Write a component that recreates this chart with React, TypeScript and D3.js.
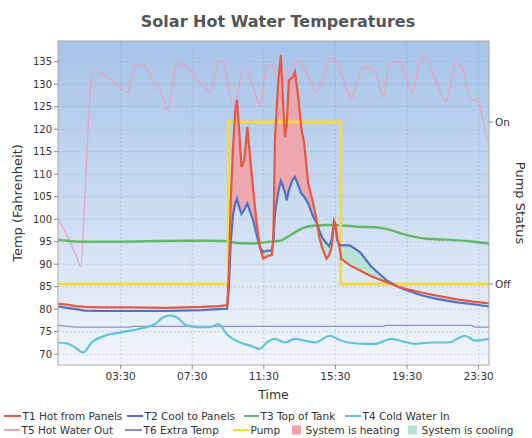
import React from 'react';
import * as d3 from 'd3';

// ---------- data (hours since midnight, degrees F) ----------
const panelHours = [0, 0.5, 1.0, 1.5, 2.5, 4, 6, 8, 9.0, 9.45, 9.55, 9.65, 9.78, 9.9, 10.0, 10.1, 10.25, 10.4, 10.58, 10.75, 10.91, 11.1, 11.28, 11.47, 11.7, 11.94, 12.03, 12.12, 12.3, 12.45, 12.55, 12.68, 12.78, 12.9, 13.1, 13.24, 13.42, 13.6, 13.75, 13.98, 14.26, 14.45, 14.6, 14.75, 15.0, 15.15, 15.29, 15.42, 15.5, 15.6, 15.76, 15.82, 16.3, 16.87, 17.5, 18.36, 19.0, 19.48, 20.3, 21.15, 22.3, 23.2, 24.08];
const t1HotFromPanels = [81.2, 81.0, 80.7, 80.5, 80.4, 80.4, 80.3, 80.5, 80.7, 80.9, 88, 104, 116, 124, 126.5, 121, 111.6, 113, 120.5, 113, 106.4, 99, 93.8, 91.2, 91.8, 92, 95.3, 117.6, 130.2, 136.5, 128, 118.3, 121, 130.9, 131.5, 132.8, 127.2, 120, 117, 107.9, 103.5, 99.7, 96, 93.8, 91.2, 92, 93.8, 99.7, 99, 96, 93, 91.2, 89.8, 88.6, 87.3, 86, 85, 84.5, 83.7, 83, 82.2, 81.7, 81.3];
const t2CoolToPanels = [80.6, 80.3, 80.0, 79.7, 79.6, 79.6, 79.6, 79.8, 80.0, 80.1, 85, 95, 101, 103.5, 104.6, 103, 101.2, 102, 103.5, 101.5, 99.7, 96.5, 93.8, 92.7, 93, 93, 95, 101.2, 106, 108.5, 107.5, 106, 104.2, 106.5, 108.7, 109.4, 107.5, 105.7, 105, 103.5, 100.5, 99.2, 97.5, 96, 94.6, 94, 95.5, 99.2, 98.3, 95.3, 94.2, 94.2, 94.2, 92.7, 89.5, 86.4, 85, 84.2, 83.1, 82.3, 81.5, 81.1, 80.6];

const t3Hours = [0, 0.5, 1.3, 3, 5, 7, 8.5, 9.5, 10.0, 10.8, 11.6, 12.4, 13.0, 13.6, 14.36, 15.0, 15.85, 16.97, 17.7, 18.27, 19.2, 20.5, 21.5, 22.36, 23.2, 24.08];
const t3TopOfTank = [95.4, 95.2, 95.0, 95.0, 95.1, 95.2, 95.2, 95.1, 94.7, 94.6, 94.9, 95.2, 96.5, 97.9, 98.6, 98.7, 98.6, 98.3, 98.2, 97.9, 96.8, 95.7, 95.5, 95.3, 95.0, 94.6];

const t4Hours = [0, 0.5, 0.95, 1.41, 1.88, 2.63, 3.56, 4.49, 5.42, 5.88, 6.26, 6.63, 7.19, 7.93, 8.49, 8.96, 9.42, 10.17, 10.73, 11.28, 11.66, 12.12, 12.68, 13.24, 13.8, 14.36, 15.2, 15.7, 16.22, 17.15, 17.7, 18.64, 19.3, 19.94, 20.87, 21.8, 22.74, 23.3, 24.08];
const t4ColdWaterIn = [72.6, 72.4, 71.5, 70.4, 72.6, 74.1, 74.9, 75.6, 76.7, 78.2, 78.6, 78.2, 76.4, 76.0, 76.0, 76.7, 74.5, 72.6, 71.9, 71.2, 72.6, 73.4, 72.6, 73.4, 73.0, 72.6, 74.1, 73.2, 72.6, 72.3, 72.3, 73.4, 72.8, 72.3, 72.6, 72.6, 74.1, 73.0, 73.4];

const t5Hours = [0, 0.5, 1.0, 1.28, 1.5, 1.75, 1.9, 2.3, 2.8, 3.4, 3.89, 4.1, 4.3, 4.86, 5.3, 5.7, 5.98, 6.16, 6.4, 6.6, 7.0, 7.5, 8.1, 8.49, 8.75, 8.96, 9.24, 9.55, 9.79, 10.0, 10.2, 10.45, 10.8, 11.1, 11.28, 11.45, 11.66, 11.94, 12.2, 12.4, 12.8, 13.1, 13.33, 13.8, 14.2, 14.45, 14.8, 15.0, 15.2, 15.47, 15.9, 16.2, 16.41, 16.7, 17.06, 17.5, 17.9, 18.17, 18.4, 18.55, 19.1, 19.4, 19.8, 20.05, 20.32, 20.6, 21.0, 21.4, 21.7, 21.95, 22.18, 22.55, 22.8, 23.0, 23.48, 23.75, 23.95, 24.08];
const t5HotWaterOut = [100.2, 96.5, 92, 89.5, 105, 125, 133, 132.8, 131.5, 129.5, 128, 131, 134.3, 133.9, 131, 128.7, 125.5, 124.4, 130, 134.6, 134.3, 132.5, 129.5, 128.3, 132, 135.2, 135, 129, 125, 127, 131, 133.9, 130.5, 127, 125, 129, 133.9, 134.3, 131.5, 129.4, 131.5, 134, 135, 133, 130, 128.3, 131, 134, 135.8, 135.4, 131.5, 128, 126.8, 130.5, 133.9, 133.5, 131, 127.2, 132, 135, 135, 132, 128, 132, 136.1, 135.4, 132, 128, 126.1, 130, 134.6, 133.9, 130, 126.8, 126.1, 122, 118.3, 117];

const t6Hours = [0, 0.6, 0.95, 4.0, 4.2, 18.2, 18.3, 23.1, 23.3, 24.08];
const t6ExtraTemp = [76.4, 76.2, 76.0, 76.0, 76.2, 76.2, 76.4, 76.4, 76.0, 76.0];

const pumpHours = [0, 9.51, 15.79, 24.08];
const pumpStatus = [0, 1, 0, 0];

const yTicks = [70, 75, 80, 85, 90, 95, 100, 105, 110, 115, 120, 125, 130, 135];
const xTickHours = [3.5, 7.5, 11.5, 15.5, 19.5, 23.5];
const xTickLabels = ['03:30', '07:30', '11:30', '15:30', '19:30', '23:30'];
const pumpTicks = [0, 1];
const pumpTickLabels = ['Off', 'On'];

// ---------- layout ----------
const W = 532, H = 438;
const PL = 58, PR = 489, PT = 41, PB = 365;
const FONT = 'DejaVu Sans, sans-serif';

const COLORS = {
  t1: '#e8573f',
  t2: '#5270c4',
  t3: '#63b866',
  t4: '#5cc6d8',
  t5: '#e9a3bf',
  t6: '#9489d2',
  pump: '#f6da3e',
  heat: '#f4a0a4',
  cool: '#b3e3cf',
};

type P = [number, number];
const zip = (a: number[], b: number[]): P[] => a.map((v, i) => [v, b[i]]);

// rows of the two panel series, with the crossing points inserted so fills meet cleanly
function crossingRows(hours: number[], a: number[], b: number[]) {
  const rows: { h: number; a: number; b: number }[] = [];
  for (let i = 0; i < hours.length; i++) {
    if (i > 0) {
      const d0 = a[i - 1] - b[i - 1];
      const d1 = a[i] - b[i];
      if (d0 * d1 < 0) {
        const t = d0 / (d0 - d1);
        const h = hours[i - 1] + t * (hours[i] - hours[i - 1]);
        const v = a[i - 1] + t * (a[i] - a[i - 1]);
        rows.push({ h, a: v, b: v });
      }
    }
    rows.push({ h: hours[i], a: a[i], b: b[i] });
  }
  return rows;
}

export default function App() {
  const x = d3.scaleLinear().domain([0, 24.08]).range([PL, PR]);
  const y = d3.scaleLinear().domain([67.6, 139.6]).range([PB, PT]);
  const yPump = d3.scaleLinear().domain([-0.5, 1.5]).range([PB, PT]);

  const line = d3.line<P>().x(d => x(d[0])).y(d => y(d[1]));
  const smooth = d3.line<P>().x(d => x(d[0])).y(d => y(d[1])).curve(d3.curveMonotoneX);
  const pumpLine = d3.line<P>().x(d => x(d[0])).y(d => yPump(d[1])).curve(d3.curveStepAfter);

  const rows = crossingRows(panelHours, t1HotFromPanels, t2CoolToPanels);
  const pumpOnStart = pumpHours[1], pumpOnEnd = pumpHours[2];
  const heatArea = d3.area<{ h: number; a: number; b: number }>()
    .defined(d => d.h >= pumpOnStart - 0.06 && d.h <= pumpOnEnd + 0.001)
    .x(d => x(d.h))
    .y0(d => y(d.b))
    .y1(d => y(Math.max(d.a, d.b)));
  const coolArea = d3.area<{ h: number; a: number; b: number }>()
    .x(d => x(d.h))
    .y0(d => y(d.a))
    .y1(d => y(Math.max(d.a, d.b)));

  const legendRow1 = [
    { kind: 'line', color: COLORS.t1, label: 'T1 Hot from Panels', x: 4, w: 17 },
    { kind: 'line', color: COLORS.t2, label: 'T2 Cool to Panels', x: 127, w: 16 },
    { kind: 'line', color: COLORS.t3, label: 'T3 Top of Tank', x: 244, w: 15 },
    { kind: 'line', color: COLORS.t4, label: 'T4 Cold Water In', x: 345, w: 16 },
  ];
  const legendRow2 = [
    { kind: 'line', color: COLORS.t5, label: 'T5 Hot Water Out', x: 4, w: 16 },
    { kind: 'line', color: COLORS.t6, label: 'T6 Extra Temp', x: 125, w: 17 },
    { kind: 'line', color: COLORS.pump, label: 'Pump', x: 233, w: 16 },
    { kind: 'rect', color: COLORS.heat, label: 'System is heating', x: 292, w: 9 },
    { kind: 'rect', color: COLORS.cool, label: 'System is cooling', x: 408, w: 9 },
  ];

  const renderLegend = (items: typeof legendRow1, cy: number) =>
    items.map((it, i) => (
      <g key={i}>
        {it.kind === 'line' ? (
          <line x1={it.x} x2={it.x + it.w} y1={cy} y2={cy} stroke={it.color} strokeWidth={2} />
        ) : (
          <rect x={it.x} y={cy - 4.5} width={it.w} height={9} fill={it.color} />
        )}
        <text x={it.x + it.w + (it.kind === 'line' ? 1.5 : 4.5)} y={cy + 3.7} fontSize={10.5} fill="#333" fontFamily={FONT}>
          {it.label}
        </text>
      </g>
    ));

  return (
    <svg width={W} height={H} style={{ position: 'absolute', left: 0, top: 0, background: '#fff' }}>
      <defs>
        <linearGradient id="bg" x1="0" y1="0" x2="0" y2="1">
          <stop offset="0%" stopColor="#a6c3e8" />
          <stop offset="50%" stopColor="#cadcf1" />
          <stop offset="100%" stopColor="#f2f6fb" />
        </linearGradient>
        <clipPath id="plot">
          <rect x={PL} y={PT} width={PR - PL} height={PB - PT} />
        </clipPath>
      </defs>

      {/* title */}
      <text x={278} y={27} textAnchor="middle" fontSize={16} fontWeight="bold" fill="#555" fontFamily={FONT}>
        Solar Hot Water Temperatures
      </text>

      {/* plot background */}
      <rect x={PL} y={PT} width={PR - PL} height={PB - PT} fill="url(#bg)" />

      {/* grid */}
      <g stroke="#8e9cad" strokeOpacity={0.45} strokeWidth={0.8} strokeDasharray="2,2">
        {yTicks.map(t => (
          <line key={'gy' + t} x1={PL} x2={PR} y1={y(t)} y2={y(t)} />
        ))}
        {xTickHours.map(t => (
          <line key={'gx' + t} x1={x(t)} x2={x(t)} y1={PT} y2={PB} />
        ))}
      </g>

      <g clipPath="url(#plot)">
        <path d={coolArea(rows) || ''} fill={COLORS.cool} fillOpacity={0.85} />
        <path d={heatArea(rows) || ''} fill={COLORS.heat} fillOpacity={0.85} />
        <path d={smooth(zip(t5Hours, t5HotWaterOut)) || ''} fill="none" stroke={COLORS.t5} strokeWidth={1.3} />
        <path d={line(zip(t6Hours, t6ExtraTemp)) || ''} fill="none" stroke={COLORS.t6} strokeWidth={1.3} />
        <path d={smooth(zip(t4Hours, t4ColdWaterIn)) || ''} fill="none" stroke={COLORS.t4} strokeWidth={2.2} />
        <path d={smooth(zip(t3Hours, t3TopOfTank)) || ''} fill="none" stroke={COLORS.t3} strokeWidth={2.4} />
        <path d={pumpLine(zip(pumpHours, pumpStatus)) || ''} fill="none" stroke={COLORS.pump} strokeWidth={3} />
        <path d={line(zip(panelHours, t2CoolToPanels)) || ''} fill="none" stroke={COLORS.t2} strokeWidth={2.2} />
        <path d={line(zip(panelHours, t1HotFromPanels)) || ''} fill="none" stroke={COLORS.t1} strokeWidth={2.2} />
      </g>

      {/* border */}
      <rect x={PL} y={PT} width={PR - PL} height={PB - PT} fill="none" stroke="#a9a9a9" strokeWidth={1} />

      {/* left axis */}
      <g fontFamily={FONT} fontSize={10} fill="#333">
        {yTicks.map(t => (
          <g key={'yt' + t}>
            <line x1={PL - 4} x2={PL} y1={y(t)} y2={y(t)} stroke="#888" />
            <text x={PL - 6} y={y(t) + 3.5} textAnchor="end">{t}</text>
          </g>
        ))}
      </g>

      {/* bottom axis */}
      <g fontFamily={FONT} fontSize={10.5} fill="#333">
        {xTickHours.map((t, i) => (
          <g key={'xt' + t}>
            <line x1={x(t)} x2={x(t)} y1={PB} y2={PB + 4} stroke="#888" />
            <text x={x(t)} y={PB + 15} textAnchor="middle">{xTickLabels[i]}</text>
          </g>
        ))}
      </g>

      {/* right axis */}
      <g fontFamily={FONT} fontSize={10.5} fill="#333">
        {pumpTicks.map((t, i) => (
          <g key={'pt' + t}>
            <line x1={PR} x2={PR + 4} y1={yPump(t)} y2={yPump(t)} stroke="#888" />
            <text x={PR + 6} y={yPump(t) + 4}>{pumpTickLabels[i]}</text>
          </g>
        ))}
      </g>

      {/* axis titles */}
      <text x={(PL + PR) / 2} y={399} textAnchor="middle" fontSize={12.5} fill="#333" fontFamily={FONT}>Time</text>
      <text transform={`translate(22,${(PT + PB) / 2}) rotate(-90)`} textAnchor="middle" fontSize={13} fill="#333" fontFamily={FONT}>
        Temp (Fahrenheit)
      </text>
      <text transform={`translate(516,${(PT + PB) / 2}) rotate(90)`} textAnchor="middle" fontSize={13} fill="#333" fontFamily={FONT}>
        Pump Status
      </text>

      {/* legend */}
      {renderLegend(legendRow1, 416)}
      {renderLegend(legendRow2, 430)}
    </svg>
  );
}
